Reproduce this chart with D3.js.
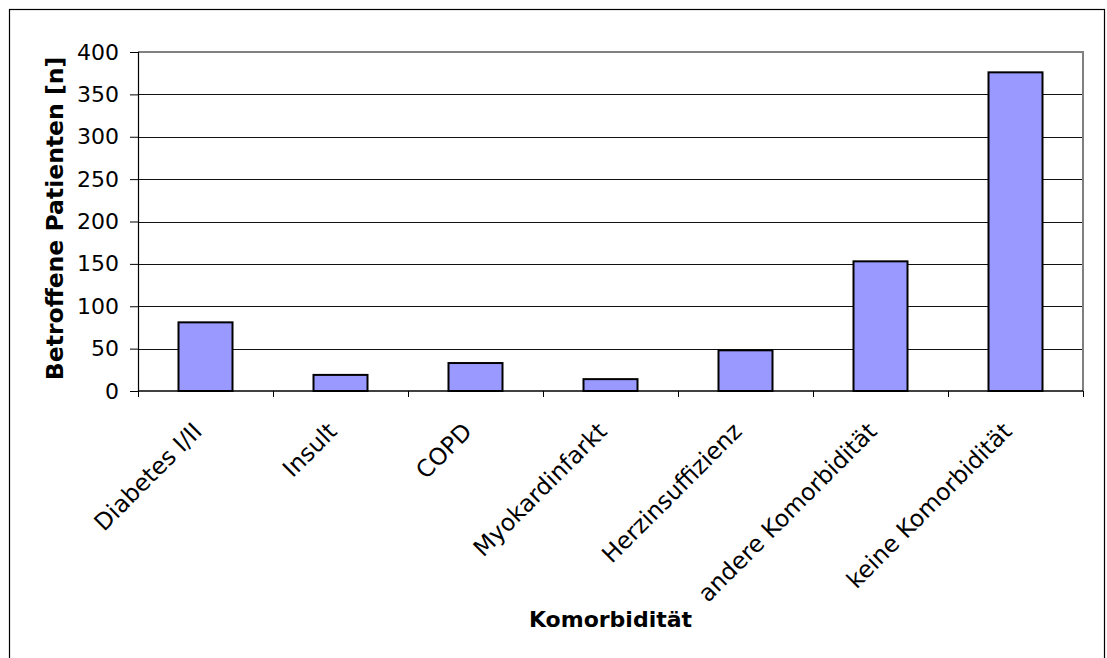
<!DOCTYPE html>
<html>
<head>
<meta charset="utf-8">
<script src="https://cdn.jsdelivr.net/npm/d3@7"></script>
<style>
  html, body { margin: 0; padding: 0; background: #fff; }
  svg { display: block; font-family: Tahoma, "DejaVu Sans", sans-serif; }
</style>
</head>
<body>
<svg id="chart" width="1107" height="658"></svg>
<script>
// Komorbiditäten der Patienten
const categories = ["Diabetes I/II", "Insult", "COPD", "Myokardinfarkt", "Herzinsuffizienz", "andere Komorbidität", "keine Komorbidität"];
const patients = [81, 19, 33, 14, 48, 153, 376];
const yTicks = [0, 50, 100, 150, 200, 250, 300, 350, 400];
const yTitle = "Betroffene Patienten [n]";
const xTitle = "Komorbidität";

const svg = d3.select("#chart");
const plot = { left: 138, right: 1083, top: 52, bottom: 391 };

// outer frame
svg.append("rect")
  .attr("x", 9.5).attr("y", 9.5)
  .attr("width", 1095).attr("height", 700)
  .attr("fill", "none").attr("stroke", "#000").attr("stroke-width", 1.2);

const x = d3.scaleBand().domain(categories).range([plot.left, plot.right]).padding(0);
const y = d3.scaleLinear().domain([0, 400]).range([plot.bottom, plot.top]);

// horizontal gridlines
svg.append("g").selectAll("line")
  .data(yTicks.filter(t => t > 0 && t < 400))
  .join("line")
  .attr("x1", plot.left).attr("x2", plot.right)
  .attr("y1", d => Math.round(y(d)) + 0.5).attr("y2", d => Math.round(y(d)) + 0.5)
  .attr("stroke", "#111").attr("stroke-width", 1);

// plot area border (top + right)
svg.append("path")
  .attr("d", `M${plot.left},${plot.top} H${plot.right} V${plot.bottom}`)
  .attr("fill", "none").attr("stroke", "#808080").attr("stroke-width", 2);

// bars
const barW = x.bandwidth() * 0.4;
svg.append("g").selectAll("rect")
  .data(categories.map((c, i) => ({ c, v: patients[i] })))
  .join("rect")
  .attr("x", d => x(d.c) + (x.bandwidth() - barW) / 2)
  .attr("y", d => y(d.v))
  .attr("width", barW)
  .attr("height", d => y(0) - y(d.v))
  .attr("fill", "#9999FF")
  .attr("stroke", "#000").attr("stroke-width", 2);

// y axis
const yAxis = d3.axisLeft(y).tickValues(yTicks).tickSize(8).tickPadding(11);
const gy = svg.append("g").attr("transform", `translate(${plot.left},0)`).call(yAxis);
gy.select(".domain").attr("stroke", "#000").attr("stroke-width", 1.2);
gy.selectAll(".tick line").attr("stroke", "#000");
gy.selectAll(".tick text")
  .attr("font-family", "Tahoma, 'DejaVu Sans', sans-serif")
  .attr("font-size", 22).attr("fill", "#000");

// x axis with tick marks at category boundaries
const gx = svg.append("g").attr("transform", `translate(0,${plot.bottom})`);
gx.append("line")
  .attr("x1", plot.left).attr("x2", plot.right)
  .attr("y1", 0).attr("y2", 0)
  .attr("stroke", "#000").attr("stroke-width", 1.5);
const bounds = categories.map(c => x(c)).concat([plot.right]);
gx.selectAll("line.tk").data(bounds).join("line").attr("class", "tk")
  .attr("x1", d => Math.round(d) + 0.5).attr("x2", d => Math.round(d) + 0.5)
  .attr("y1", 0).attr("y2", 6)
  .attr("stroke", "#000");

// rotated category labels
gx.selectAll("text.cat").data(categories).join("text").attr("class", "cat")
  .attr("transform", d => `translate(${x(d) + x.bandwidth() / 2 - 8},${36}) rotate(-45)`)
  .attr("text-anchor", "end")
  .attr("dy", "0.35em")
  .attr("font-size", 23.5)
  .attr("fill", "#000")
  .text(d => d);

// axis titles
svg.append("text")
  .attr("transform", `translate(63,${(plot.top + plot.bottom) / 2 - 3}) rotate(-90)`)
  .attr("text-anchor", "middle")
  .attr("font-size", 23.5).attr("font-weight", "bold")
  .text(yTitle);

svg.append("text")
  .attr("x", (plot.left + plot.right) / 2).attr("y", 627)
  .attr("text-anchor", "middle")
  .attr("font-size", 22).attr("font-weight", "bold")
  .text(xTitle);
</script>
</body>
</html>
